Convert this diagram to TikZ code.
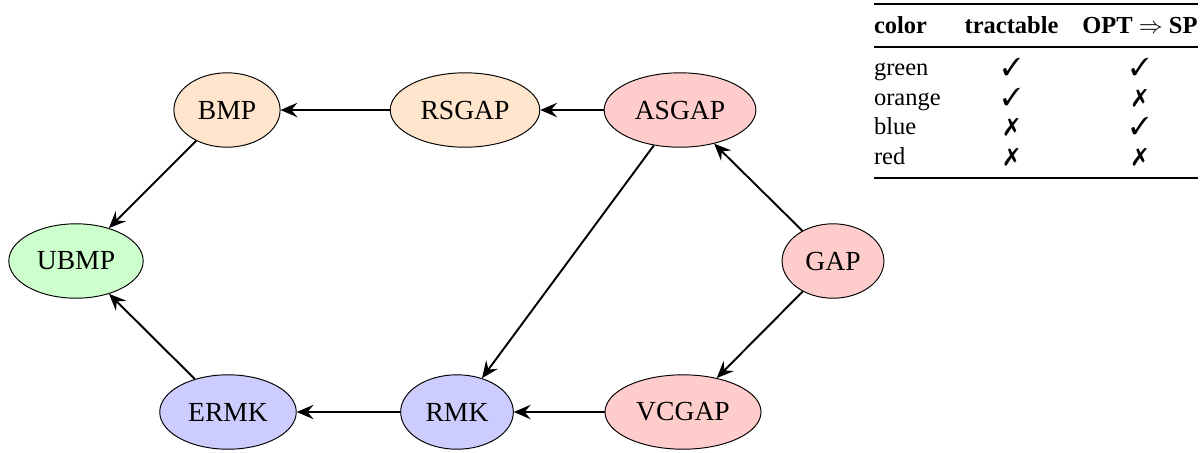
\documentclass[tikz,border=0pt]{standalone}
\usepackage{fontspec}
\setmainfont{Liberation Serif}
\usepackage{amssymb,amsmath}
\usepackage{booktabs}
\usepackage{pifont}
\usepackage{tikz}
\usetikzlibrary{shapes.geometric,arrows.meta}

\begin{document}
\begin{tikzpicture}[x=0.4167pt,y=0.4167pt,font=\fontsize{11.5}{13}\selectfont,
  prob/.style={ellipse,draw,thin,inner xsep=3.5pt,minimum height=31pt},
  easy/.style={prob,fill=green!20},
  semi/.style={prob,fill=orange!20},
  cool/.style={prob,fill=blue!20},
  hard/.style={prob,fill=red!20},
  red/.style={thick,-{Stealth[length=7pt,width=6pt,inset=2.5pt]}}]
  \useasboundingbox (0,0) rectangle (1202,452);
  \node[semi] (bmp) at (227,342) {BMP};
  \node[semi] (rsgap) at (465,342) {RSGAP};
  \node[hard] (asgap) at (680,342) {ASGAP};
  \node[easy] (ubmp) at (76,191) {UBMP};
  \node[hard] (gap) at (833,191) {GAP};
  \node[cool] (ermk) at (228,40) {ERMK};
  \node[cool] (rmk) at (457,40) {RMK};
  \node[hard] (vcgap) at (683,40) {VCGAP};
  % reductions
  \draw[red] (rsgap) -- (bmp);
  \draw[red] (asgap) -- (rsgap);
  \draw[red] (bmp) -- (ubmp);
  \draw[red] (asgap) -- (rmk);
  \draw[red] (gap) -- (asgap);
  \draw[red] (gap) -- (vcgap);
  \draw[red] (vcgap) -- (rmk);
  \draw[red] (rmk) -- (ermk);
  \draw[red] (ermk) -- (ubmp);
  % legend
  \node[anchor=north east,inner sep=0pt,font=\fontsize{10.2}{12.3}\selectfont] (legend) at (1198,449) {%
    \setlength{\tabcolsep}{5pt}%
    \begin{tabular}{@{}lcc@{}}
      \toprule
      \textbf{color} & \textbf{tractable} & \textbf{OPT $\Rightarrow$ SP}\\
      \midrule
      green  & \ding{51} & \ding{51}\\
      orange & \ding{51} & \ding{55}\\
      blue   & \ding{55} & \ding{51}\\
      red    & \ding{55} & \ding{55}\\
      \bottomrule
    \end{tabular}};
\end{tikzpicture}
\end{document}
